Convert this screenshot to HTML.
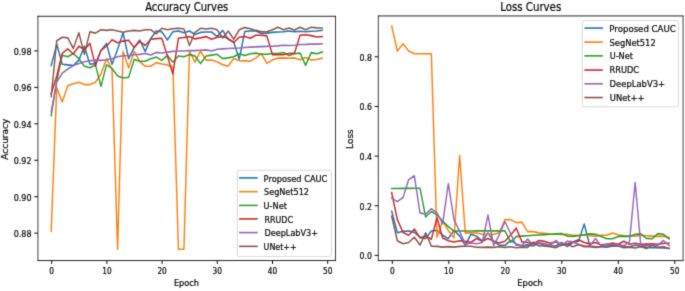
<!DOCTYPE html>
<html lang="en"><head><meta charset="utf-8"><title>Accuracy and Loss Curves</title>
<style>html,body{margin:0;padding:0;background:#fff;}svg{display:block;}</style>
</head><body>
<svg width="685" height="291" viewBox="0 0 685 291" font-family="'DejaVu Sans', 'Liberation Sans', sans-serif" fill="#0a0a0a" stroke="#0a0a0a" stroke-width="0">
<rect width="685" height="291" fill="#fff"/>
<defs><filter id="soft" x="0" y="0" width="100%" height="100%" filterUnits="userSpaceOnUse" color-interpolation-filters="sRGB"><feConvolveMatrix order="3" kernelMatrix="0.01690 0.09620 0.01690 0.09620 0.54760 0.09620 0.01690 0.09620 0.01690" divisor="1" edgeMode="duplicate" preserveAlpha="false"/></filter></defs>
<g filter="url(#soft)">
<clipPath id="c37"><rect x="37.95" y="16.27" width="297.55" height="244.29"/></clipPath>
<g clip-path="url(#c37)"><g transform="scale(0.9,1)">
<polyline points="56.89,65.60 63.03,44.10 69.18,64.20 75.33,64.90 81.47,65.60 87.62,60.10 93.76,46.20 99.91,64.20 106.05,63.50 112.20,50.50 118.34,43.40 124.49,64.20 130.64,49.50 136.78,32.80 142.93,58.70 149.07,47.50 155.22,40.00 161.36,51.70 167.51,38.60 173.65,31.05 179.80,31.70 185.95,40.00 192.09,31.70 198.24,31.05 204.38,32.80 210.53,31.05 216.67,34.50 222.82,32.40 228.96,32.00 235.11,32.00 241.26,36.60 247.40,30.40 253.55,39.30 259.69,42.00 265.84,59.20 271.98,31.50 278.13,31.05 284.27,31.05 290.42,33.40 296.57,33.10 302.71,32.40 308.86,32.00 315.00,31.70 321.15,31.05 327.29,31.70 333.44,31.30 339.58,31.70 345.73,31.30 351.88,31.05 358.02,30.40" fill="none" stroke="#1f77b4" stroke-width="1.6" stroke-linejoin="round" stroke-linecap="square"/>
<polyline points="56.89,231.20 63.03,87.80 69.18,102.00 75.33,85.70 81.47,83.70 87.62,82.30 93.76,84.60 99.91,84.60 106.05,82.30 112.20,74.00 118.34,58.70 124.49,69.70 130.64,249.20 136.78,51.20 142.93,68.00 149.07,51.20 155.22,61.50 161.36,66.30 167.51,66.30 173.65,62.60 179.80,64.00 185.95,64.90 192.09,67.00 198.24,249.30 204.38,249.30 210.53,51.20 216.67,62.20 222.82,51.20 228.96,60.10 235.11,60.00 241.26,61.70 247.40,64.70 253.55,66.10 259.69,58.60 265.84,60.60 271.98,60.90 278.13,61.30 284.27,57.90 290.42,53.70 296.57,63.40 302.71,59.90 308.86,58.10 315.00,57.90 321.15,58.30 327.29,57.90 333.44,59.80 339.58,57.60 345.73,59.90 351.88,59.50 358.02,58.10" fill="none" stroke="#ff7f0e" stroke-width="1.6" stroke-linejoin="round" stroke-linecap="square"/>
<polyline points="56.89,115.60 63.03,81.00 69.18,55.30 75.33,56.70 81.47,53.50 87.62,58.70 93.76,66.30 99.91,67.70 106.05,64.90 112.20,86.40 118.34,64.90 124.49,68.40 130.64,75.90 136.78,78.00 142.93,77.30 149.07,59.40 155.22,61.20 161.36,61.20 167.51,58.70 173.65,57.10 179.80,60.40 185.95,55.30 192.09,62.20 198.24,56.00 204.38,56.70 210.53,54.60 216.67,56.00 222.82,63.60 228.96,56.00 235.11,55.10 241.26,54.30 247.40,58.60 253.55,57.90 259.69,56.80 265.84,53.70 271.98,55.40 278.13,53.70 284.27,53.10 290.42,54.20 296.57,54.20 302.71,53.50 308.86,53.50 315.00,52.60 321.15,55.40 327.29,53.70 333.44,53.10 339.58,65.40 345.73,52.60 351.88,53.70 358.02,52.10" fill="none" stroke="#2ca02c" stroke-width="1.6" stroke-linejoin="round" stroke-linecap="square"/>
<polyline points="56.89,93.70 63.03,76.00 69.18,53.30 75.33,48.90 81.47,54.00 87.62,46.20 93.76,49.60 99.91,43.40 106.05,66.00 112.20,50.30 118.34,46.20 124.49,39.70 130.64,42.70 136.78,41.10 142.93,40.30 149.07,47.50 155.22,41.40 161.36,45.50 167.51,39.30 173.65,38.60 179.80,38.30 185.95,56.00 192.09,73.90 198.24,38.30 204.38,37.50 210.53,36.60 216.67,38.90 222.82,37.90 228.96,36.60 235.11,39.30 241.26,37.20 247.40,36.60 253.55,38.60 259.69,42.50 265.84,37.20 271.98,36.60 278.13,38.30 284.27,35.20 290.42,35.20 296.57,35.90 302.71,54.80 308.86,54.80 315.00,54.80 321.15,53.50 327.29,53.00 333.44,35.20 339.58,34.80 345.73,35.60 351.88,37.00 358.02,36.60" fill="none" stroke="#d62728" stroke-width="1.6" stroke-linejoin="round" stroke-linecap="square"/>
<polyline points="56.89,112.00 63.03,82.10 69.18,73.20 75.33,69.00 81.47,65.60 87.62,63.50 93.76,61.80 99.91,60.80 106.05,60.10 112.20,60.40 118.34,59.80 124.49,58.70 130.64,56.70 136.78,55.70 142.93,55.50 149.07,54.80 155.22,54.40 161.36,53.50 167.51,55.10 173.65,52.40 179.80,53.00 185.95,52.10 192.09,51.40 198.24,51.00 204.38,51.00 210.53,50.60 216.67,50.60 222.82,50.30 228.96,49.90 235.11,51.00 241.26,49.30 247.40,48.90 253.55,48.50 259.69,48.20 265.84,48.00 271.98,47.50 278.13,47.10 284.27,46.90 290.42,46.60 296.57,46.40 302.71,46.20 308.86,45.90 315.00,45.20 321.15,45.50 327.29,45.20 333.44,44.50 339.58,44.40 345.73,44.10 351.88,44.10 358.02,43.80" fill="none" stroke="#9467bd" stroke-width="1.6" stroke-linejoin="round" stroke-linecap="square"/>
<polyline points="56.89,96.50 63.03,40.70 69.18,37.20 75.33,37.90 81.47,48.50 87.62,32.80 93.76,54.40 99.91,31.70 106.05,33.10 112.20,29.70 118.34,30.40 124.49,29.70 130.64,31.05 136.78,32.20 142.93,31.05 149.07,30.40 155.22,31.05 161.36,29.70 167.51,29.70 173.65,33.80 179.80,28.30 185.95,29.70 192.09,28.70 198.24,28.30 204.38,29.00 210.53,45.50 216.67,32.40 222.82,28.30 228.96,29.00 235.11,28.30 241.26,29.70 247.40,37.90 253.55,31.05 259.69,39.30 265.84,29.70 271.98,27.60 278.13,28.70 284.27,30.40 290.42,31.70 296.57,31.70 302.71,29.70 308.86,27.30 315.00,29.70 321.15,27.90 327.29,30.10 333.44,27.30 339.58,29.70 345.73,27.30 351.88,27.90 358.02,28.00" fill="none" stroke="#8c564b" stroke-width="1.6" stroke-linejoin="round" stroke-linecap="square"/>
</g></g>
<line x1="51.70" y1="260.56" x2="51.70" y2="263.96" stroke="#000" stroke-width="0.95"/>
<text transform="translate(51.70,273.86) scale(0.85,1)" font-size="8.7" text-anchor="middle" stroke-width="0.24">0</text>
<line x1="106.90" y1="260.56" x2="106.90" y2="263.96" stroke="#000" stroke-width="0.95"/>
<text transform="translate(106.90,273.86) scale(0.85,1)" font-size="8.7" text-anchor="middle" stroke-width="0.24">10</text>
<line x1="162.10" y1="260.56" x2="162.10" y2="263.96" stroke="#000" stroke-width="0.95"/>
<text transform="translate(162.10,273.86) scale(0.85,1)" font-size="8.7" text-anchor="middle" stroke-width="0.24">20</text>
<line x1="217.30" y1="260.56" x2="217.30" y2="263.96" stroke="#000" stroke-width="0.95"/>
<text transform="translate(217.30,273.86) scale(0.85,1)" font-size="8.7" text-anchor="middle" stroke-width="0.24">30</text>
<line x1="272.50" y1="260.56" x2="272.50" y2="263.96" stroke="#000" stroke-width="0.95"/>
<text transform="translate(272.50,273.86) scale(0.85,1)" font-size="8.7" text-anchor="middle" stroke-width="0.24">40</text>
<line x1="327.70" y1="260.56" x2="327.70" y2="263.96" stroke="#000" stroke-width="0.95"/>
<text transform="translate(327.70,273.86) scale(0.85,1)" font-size="8.7" text-anchor="middle" stroke-width="0.24">50</text>
<line x1="34.25" y1="50.95" x2="37.95" y2="50.95" stroke="#000" stroke-width="0.95"/>
<text transform="translate(31.55,54.90) scale(0.9,1)" font-size="8.9" text-anchor="end" stroke-width="0.24">0.98</text>
<line x1="34.25" y1="87.39" x2="37.95" y2="87.39" stroke="#000" stroke-width="0.95"/>
<text transform="translate(31.55,91.34) scale(0.9,1)" font-size="8.9" text-anchor="end" stroke-width="0.24">0.96</text>
<line x1="34.25" y1="123.83" x2="37.95" y2="123.83" stroke="#000" stroke-width="0.95"/>
<text transform="translate(31.55,127.78) scale(0.9,1)" font-size="8.9" text-anchor="end" stroke-width="0.24">0.94</text>
<line x1="34.25" y1="160.27" x2="37.95" y2="160.27" stroke="#000" stroke-width="0.95"/>
<text transform="translate(31.55,164.22) scale(0.9,1)" font-size="8.9" text-anchor="end" stroke-width="0.24">0.92</text>
<line x1="34.25" y1="196.71" x2="37.95" y2="196.71" stroke="#000" stroke-width="0.95"/>
<text transform="translate(31.55,200.66) scale(0.9,1)" font-size="8.9" text-anchor="end" stroke-width="0.24">0.90</text>
<line x1="34.25" y1="233.15" x2="37.95" y2="233.15" stroke="#000" stroke-width="0.95"/>
<text transform="translate(31.55,237.10) scale(0.9,1)" font-size="8.9" text-anchor="end" stroke-width="0.24">0.88</text>
<line x1="37.620000000000005" y1="16.27" x2="335.83" y2="16.27" stroke="#000" stroke-width="0.85"/>
<line x1="37.620000000000005" y1="260.56" x2="335.83" y2="260.56" stroke="#000" stroke-width="0.85"/>
<line x1="37.95" y1="15.87" x2="37.95" y2="260.96" stroke="#000" stroke-width="0.75"/>
<line x1="335.5" y1="15.87" x2="335.5" y2="260.96" stroke="#000" stroke-width="0.75"/>
<text transform="translate(186.72,10.70) scale(0.831,1)" font-size="12.0" text-anchor="middle" stroke-width="0.24">Accuracy Curves</text>
<text transform="translate(186.38,286.45) scale(0.917,1)" font-size="8.9" text-anchor="middle" stroke-width="0.24">Epoch</text>
<text transform="translate(8.3,139.22) scale(0.915,1) rotate(-90)" font-size="9.0" text-anchor="middle" stroke-width="0.24">Accuracy</text>
<rect x="237.3" y="170.3" width="94.19999999999999" height="86.25" rx="2" ry="2" fill="#fff" fill-opacity="0.8" stroke="#cccccc" stroke-opacity="0.9" stroke-width="0.8"/>
<line x1="239.1" y1="177.9" x2="257.7" y2="177.9" stroke="#1f77b4" stroke-width="1.6"/>
<text transform="translate(263.60,181.60) scale(0.87759,1)" font-size="9.4" text-anchor="start" stroke-width="0.24">Proposed CAUC</text>
<line x1="239.1" y1="191.65" x2="257.7" y2="191.65" stroke="#ff7f0e" stroke-width="1.6"/>
<text transform="translate(264.00,194.95) scale(0.86436,1)" font-size="9.4" text-anchor="start" stroke-width="0.24">SegNet512</text>
<line x1="239.1" y1="205.4" x2="257.7" y2="205.4" stroke="#2ca02c" stroke-width="1.6"/>
<text transform="translate(263.60,208.80) scale(0.869652,1)" font-size="9.4" text-anchor="start" stroke-width="0.24">U-Net</text>
<line x1="239.1" y1="218.9" x2="257.7" y2="218.9" stroke="#d62728" stroke-width="1.6"/>
<text transform="translate(264.50,222.70) scale(0.84231,1)" font-size="9.4" text-anchor="start" stroke-width="0.24">RRUDC</text>
<line x1="239.1" y1="232.6" x2="257.7" y2="232.6" stroke="#9467bd" stroke-width="1.6"/>
<text transform="translate(264.50,236.40) scale(0.86436,1)" font-size="9.4" text-anchor="start" stroke-width="0.24">DeepLabV3+</text>
<line x1="239.1" y1="246.35" x2="257.7" y2="246.35" stroke="#8c564b" stroke-width="1.6"/>
<text transform="translate(263.60,249.95) scale(0.84672,1)" font-size="9.4" text-anchor="start" stroke-width="0.24">UNet++</text>
<clipPath id="c378"><rect x="378.3" y="15.95" width="304.8" height="244.61"/></clipPath>
<g clip-path="url(#c378)"><g transform="scale(0.9,1)">
<polyline points="435.22,211.20 441.51,232.80 447.80,231.30 454.10,231.05 460.39,232.40 466.68,237.20 472.97,238.60 479.26,231.05 485.55,230.40 491.84,235.20 498.13,238.60 504.42,230.40 510.72,235.90 517.01,245.50 523.30,234.20 529.59,236.20 535.88,241.20 542.17,232.90 548.46,241.20 554.75,245.30 561.04,245.30 567.34,240.50 573.63,243.90 579.92,246.00 586.21,244.90 592.50,246.00 598.79,243.20 605.08,245.30 611.37,246.00 617.66,246.00 623.96,242.50 630.25,246.70 636.54,242.50 642.83,241.20 649.12,224.00 655.41,246.00 661.70,246.70 667.99,246.70 674.28,247.10 680.58,246.00 686.87,246.00 693.16,246.70 699.45,246.70 705.74,245.30 712.03,246.00 718.32,247.40 724.61,247.60 730.90,247.60 737.20,248.00 743.49,248.50" fill="none" stroke="#1f77b4" stroke-width="1.6" stroke-linejoin="round" stroke-linecap="square"/>
<polyline points="435.22,26.20 441.51,51.00 447.80,43.80 454.10,51.00 460.39,53.70 466.68,53.70 472.97,53.70 479.26,53.70 485.55,237.20 491.84,221.00 498.13,230.40 504.42,237.90 510.72,155.50 517.01,233.10 523.30,232.80 529.59,233.00 535.88,234.30 542.17,234.30 548.46,234.30 554.75,232.90 561.04,219.60 567.34,219.60 573.63,222.60 579.92,222.30 586.21,231.60 592.50,231.60 598.79,232.90 605.08,233.30 611.37,234.00 617.66,234.30 623.96,234.50 630.25,234.30 636.54,235.30 642.83,235.30 649.12,235.00 655.41,235.70 661.70,236.10 667.99,235.30 674.28,235.30 680.58,232.90 686.87,234.70 693.16,235.70 699.45,236.00 705.74,236.10 712.03,235.30 718.32,235.70 724.61,236.10 730.90,236.40 737.20,236.10 743.49,237.50" fill="none" stroke="#ff7f0e" stroke-width="1.6" stroke-linejoin="round" stroke-linecap="square"/>
<polyline points="435.22,188.50 441.51,188.50 447.80,188.40 454.10,188.40 460.39,188.30 466.68,188.30 472.97,217.00 479.26,211.50 485.55,214.90 491.84,221.10 498.13,226.60 504.42,231.10 510.72,231.05 517.01,231.00 523.30,231.00 529.59,230.90 535.88,230.90 542.17,230.90 548.46,230.90 554.75,230.90 561.04,230.90 567.34,242.10 573.63,236.60 579.92,236.10 586.21,235.70 592.50,235.30 598.79,235.00 605.08,234.60 611.37,234.30 617.66,233.90 623.96,233.60 630.25,236.10 636.54,236.40 642.83,235.70 649.12,234.70 655.41,233.90 661.70,234.30 667.99,236.40 674.28,238.80 680.58,238.80 686.87,236.40 693.16,236.10 699.45,236.40 705.74,234.30 712.03,233.90 718.32,238.40 724.61,238.80 730.90,233.60 737.20,234.30 743.49,238.80" fill="none" stroke="#2ca02c" stroke-width="1.6" stroke-linejoin="round" stroke-linecap="square"/>
<polyline points="435.22,192.70 441.51,219.70 447.80,232.40 454.10,235.20 460.39,229.00 466.68,237.90 472.97,235.90 479.26,239.30 485.55,217.70 491.84,237.90 498.13,240.70 504.42,242.00 510.72,240.70 517.01,241.40 523.30,242.30 529.59,238.50 535.88,241.20 542.17,238.40 548.46,241.20 554.75,243.00 561.04,241.20 567.34,235.00 573.63,228.10 579.92,241.90 586.21,242.50 592.50,243.90 598.79,240.50 605.08,241.40 611.37,243.20 617.66,241.90 623.96,244.90 630.25,243.90 636.54,242.10 642.83,239.80 649.12,242.50 655.41,243.90 661.70,242.50 667.99,244.90 674.28,244.30 680.58,243.00 686.87,244.30 693.16,241.20 699.45,244.30 705.74,243.20 712.03,244.30 718.32,244.10 724.61,243.90 730.90,244.30 737.20,243.50 743.49,243.00" fill="none" stroke="#d62728" stroke-width="1.6" stroke-linejoin="round" stroke-linecap="square"/>
<polyline points="435.22,198.20 441.51,201.60 447.80,197.50 454.10,179.60 460.39,175.80 466.68,212.90 472.97,214.20 479.26,208.70 485.55,212.90 491.84,223.90 498.13,183.70 504.42,219.70 510.72,231.40 517.01,244.10 523.30,243.00 529.59,243.70 535.88,242.50 542.17,215.10 548.46,245.30 554.75,235.00 561.04,221.50 567.34,233.60 573.63,245.30 579.92,245.30 586.21,239.10 592.50,245.30 598.79,242.50 605.08,243.90 611.37,245.30 617.66,240.50 623.96,245.30 630.25,241.20 636.54,241.90 642.83,244.60 649.12,246.00 655.41,245.70 661.70,238.40 667.99,246.00 674.28,243.90 680.58,244.60 686.87,244.30 693.16,245.70 699.45,241.90 705.74,182.50 712.03,245.30 718.32,245.80 724.61,244.60 730.90,245.30 737.20,240.50 743.49,245.70" fill="none" stroke="#9467bd" stroke-width="1.6" stroke-linejoin="round" stroke-linecap="square"/>
<polyline points="435.22,216.30 441.51,240.70 447.80,243.70 454.10,242.50 460.39,237.20 466.68,245.10 472.97,232.80 479.26,246.20 485.55,246.40 491.84,247.10 498.13,246.60 504.42,247.10 510.72,246.40 517.01,246.20 523.30,246.30 529.59,247.20 535.88,247.40 542.17,247.10 548.46,247.40 554.75,246.70 561.04,247.40 567.34,246.70 573.63,247.80 579.92,247.10 586.21,247.40 592.50,242.10 598.79,246.00 605.08,246.00 611.37,246.70 617.66,247.60 623.96,245.30 630.25,244.30 636.54,246.70 642.83,244.60 649.12,246.70 655.41,246.70 661.70,247.40 667.99,246.70 674.28,246.00 680.58,245.70 686.87,246.00 693.16,247.60 699.45,247.10 705.74,248.00 712.03,246.70 718.32,248.60 724.61,245.30 730.90,247.40 737.20,246.70 743.49,248.50" fill="none" stroke="#8c564b" stroke-width="1.6" stroke-linejoin="round" stroke-linecap="square"/>
</g></g>
<line x1="392.30" y1="260.56" x2="392.30" y2="263.96" stroke="#000" stroke-width="0.95"/>
<text transform="translate(392.30,273.86) scale(0.85,1)" font-size="8.7" text-anchor="middle" stroke-width="0.24">0</text>
<line x1="448.80" y1="260.56" x2="448.80" y2="263.96" stroke="#000" stroke-width="0.95"/>
<text transform="translate(448.80,273.86) scale(0.85,1)" font-size="8.7" text-anchor="middle" stroke-width="0.24">10</text>
<line x1="505.30" y1="260.56" x2="505.30" y2="263.96" stroke="#000" stroke-width="0.95"/>
<text transform="translate(505.30,273.86) scale(0.85,1)" font-size="8.7" text-anchor="middle" stroke-width="0.24">20</text>
<line x1="561.80" y1="260.56" x2="561.80" y2="263.96" stroke="#000" stroke-width="0.95"/>
<text transform="translate(561.80,273.86) scale(0.85,1)" font-size="8.7" text-anchor="middle" stroke-width="0.24">30</text>
<line x1="618.30" y1="260.56" x2="618.30" y2="263.96" stroke="#000" stroke-width="0.95"/>
<text transform="translate(618.30,273.86) scale(0.85,1)" font-size="8.7" text-anchor="middle" stroke-width="0.24">40</text>
<line x1="674.80" y1="260.56" x2="674.80" y2="263.96" stroke="#000" stroke-width="0.95"/>
<text transform="translate(674.80,273.86) scale(0.85,1)" font-size="8.7" text-anchor="middle" stroke-width="0.24">50</text>
<line x1="374.60" y1="255.37" x2="378.3" y2="255.37" stroke="#000" stroke-width="0.95"/>
<text transform="translate(371.90,259.32) scale(0.882,1)" font-size="8.9" text-anchor="end" stroke-width="0.24">0.0</text>
<line x1="374.60" y1="205.73" x2="378.3" y2="205.73" stroke="#000" stroke-width="0.95"/>
<text transform="translate(371.90,209.68) scale(0.882,1)" font-size="8.9" text-anchor="end" stroke-width="0.24">0.2</text>
<line x1="374.60" y1="156.09" x2="378.3" y2="156.09" stroke="#000" stroke-width="0.95"/>
<text transform="translate(371.90,160.04) scale(0.882,1)" font-size="8.9" text-anchor="end" stroke-width="0.24">0.4</text>
<line x1="374.60" y1="106.45" x2="378.3" y2="106.45" stroke="#000" stroke-width="0.95"/>
<text transform="translate(371.90,110.40) scale(0.882,1)" font-size="8.9" text-anchor="end" stroke-width="0.24">0.6</text>
<line x1="374.60" y1="56.81" x2="378.3" y2="56.81" stroke="#000" stroke-width="0.95"/>
<text transform="translate(371.90,60.76) scale(0.882,1)" font-size="8.9" text-anchor="end" stroke-width="0.24">0.8</text>
<line x1="377.97" y1="15.95" x2="683.4300000000001" y2="15.95" stroke="#000" stroke-width="0.85"/>
<line x1="377.97" y1="260.56" x2="683.4300000000001" y2="260.56" stroke="#000" stroke-width="0.85"/>
<line x1="378.3" y1="15.549999999999999" x2="378.3" y2="260.96" stroke="#000" stroke-width="0.75"/>
<line x1="683.1" y1="15.549999999999999" x2="683.1" y2="260.96" stroke="#000" stroke-width="0.75"/>
<text transform="translate(530.70,10.70) scale(0.8517749999999998,1)" font-size="12.0" text-anchor="middle" stroke-width="0.24">Loss Curves</text>
<text transform="translate(530.10,286.45) scale(0.939925,1)" font-size="8.9" text-anchor="middle" stroke-width="0.24">Epoch</text>
<text transform="translate(352.9,139.06) scale(0.915,1) rotate(-90)" font-size="9.0" text-anchor="middle" stroke-width="0.24">Loss</text>
<rect x="582.3" y="20.4" width="96.10000000000002" height="86.30000000000001" rx="2" ry="2" fill="#fff" fill-opacity="0.8" stroke="#cccccc" stroke-opacity="0.9" stroke-width="0.8"/>
<line x1="584.4" y1="28.1" x2="602.9" y2="28.1" stroke="#1f77b4" stroke-width="1.6"/>
<text transform="translate(609.30,31.70) scale(0.9152999999999999,1)" font-size="9.4" text-anchor="start" stroke-width="0.24">Proposed CAUC</text>
<line x1="584.4" y1="42.15" x2="602.9" y2="42.15" stroke="#ff7f0e" stroke-width="1.6"/>
<text transform="translate(609.50,45.75) scale(0.8865,1)" font-size="9.4" text-anchor="start" stroke-width="0.24">SegNet512</text>
<line x1="584.4" y1="55.85" x2="602.9" y2="55.85" stroke="#2ca02c" stroke-width="1.6"/>
<text transform="translate(609.70,59.45) scale(0.8694,1)" font-size="9.4" text-anchor="start" stroke-width="0.24">U-Net</text>
<line x1="584.4" y1="70.05" x2="602.9" y2="70.05" stroke="#d62728" stroke-width="1.6"/>
<text transform="translate(609.60,73.45) scale(0.8739,1)" font-size="9.4" text-anchor="start" stroke-width="0.24">RRUDC</text>
<line x1="584.4" y1="83.8" x2="602.9" y2="83.8" stroke="#9467bd" stroke-width="1.6"/>
<text transform="translate(609.60,87.20) scale(0.8955,1)" font-size="9.4" text-anchor="start" stroke-width="0.24">DeepLabV3+</text>
<line x1="584.4" y1="97.55" x2="602.9" y2="97.55" stroke="#8c564b" stroke-width="1.6"/>
<text transform="translate(609.80,100.95) scale(0.8901,1)" font-size="9.4" text-anchor="start" stroke-width="0.24">UNet++</text>
</g></svg>
</body></html>
